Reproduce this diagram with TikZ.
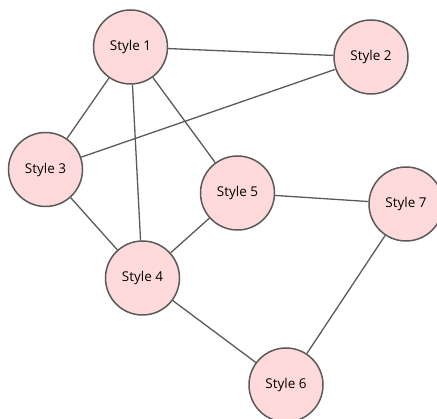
\documentclass[tikz,border=0pt]{standalone}
\usepackage{fontspec}
\setmainfont{Open Sans}
\definecolor{nodefill}{HTML}{FFDADA}
\definecolor{edgegray}{HTML}{5A5A5A}
\begin{document}
\begin{tikzpicture}[x=1pt,y=-1pt,
  stylenode/.style={circle,draw=edgegray,fill=nodefill,line width=1.5pt,minimum size=74pt,inner sep=0pt,font=\fontsize{13.5}{15}\selectfont},
  edge/.style={draw=edgegray,line width=1.3pt}]
\useasboundingbox (0,0) rectangle (437,419);
\node[stylenode] (s1) at (130.5,47) {Style 1};
\node[stylenode] (s2) at (371,57) {Style 2};
\node[stylenode] (s3) at (45.5,169.5) {Style 3};
\node[stylenode] (s5) at (237.5,193) {Style 5};
\node[stylenode] (s4) at (142.5,278) {Style 4};
\node[stylenode] (s6) at (286,385) {Style 6};
\node[stylenode] (s7) at (406,204) {Style 7};
\draw[edge] (s1) -- (s2);
\draw[edge] (s1) -- (s3);
\draw[edge] (s1) -- (s4);
\draw[edge] (s1) -- (s5);
\draw[edge] (s2) -- (s3);
\draw[edge] (s3) -- (s4);
\draw[edge] (s4) -- (s5);
\draw[edge] (s5) -- (s7);
\draw[edge] (s7) -- (s6);
\draw[edge] (s4) -- (s6);
\end{tikzpicture}
\end{document}
